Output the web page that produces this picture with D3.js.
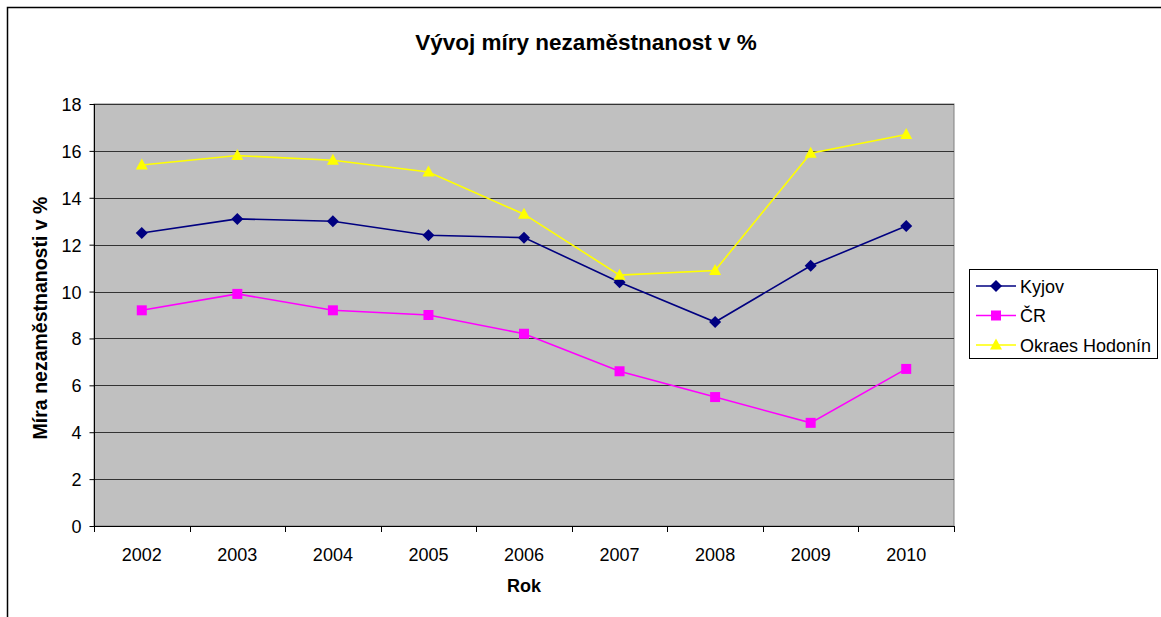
<!DOCTYPE html>
<html><head><meta charset="utf-8">
<script src="https://cdn.jsdelivr.net/npm/d3@7"></script>
<style>body{margin:0;background:#fff;}svg{display:block;font-family:Arial,"Liberation Sans",sans-serif;}</style>
</head><body>
<svg id="c" width="1161" height="617"></svg>
<script>
const years = ["2002","2003","2004","2005","2006","2007","2008","2009","2010"];
const kyjov = [12.5,13.1,13.0,12.4,12.3,10.4,8.7,11.1,12.8];
const cr = [9.2,9.9,9.2,9.0,8.2,6.6,5.5,4.4,6.7];
const hodonin = [15.4,15.8,15.6,15.1,13.3,10.7,10.9,15.9,16.7];
const yTicks = [0,2,4,6,8,10,12,14,16,18];
const seriesNames = ["Kyjov","ČR","Okraes Hodonín"];
const seriesColors = ["#000080","#ff00ff","#ffff00"];
const seriesShapes = ["diamond","square","triangle"];
const title = "Vývoj míry nezaměstnanost v %";
const xTitle = "Rok";
const yTitle = "Míra nezaměstnanosti v %";

const FONT = "Arial,'Liberation Sans',sans-serif";
const svg = d3.select("#c");
const L=94, R=954, T=104, B=526;
// outer border
svg.append("rect").attr("x",7.5).attr("y",7.5).attr("width",1170).attr("height",640)
  .attr("fill","#fff").attr("stroke","#000").attr("stroke-width",1.5);

const x = d3.scaleBand().domain(years).range([L,R]).padding(0);
const y = d3.scaleLinear().domain([0,18]).range([B,T]);

svg.append("rect").attr("x",L).attr("y",T).attr("width",R-L).attr("height",B-T)
  .attr("fill","#c0c0c0").attr("stroke","#808080").attr("stroke-width",1);

// gridlines
svg.append("g").selectAll("line").data(yTicks.filter(d=>d>0)).join("line")
  .attr("x1",L).attr("x2",R).attr("y1",d=>Math.round(y(d))+0.5).attr("y2",d=>Math.round(y(d))+0.5)
  .attr("stroke","#333").attr("stroke-width",1);

// y axis
const ya = svg.append("g").attr("transform",`translate(${L+0.5},0)`)
  .call(d3.axisLeft(y).tickValues(yTicks).tickSize(5).tickPadding(8));
ya.select(".domain").attr("stroke","#000").attr("d",`M0,${T}V${B}`);
ya.selectAll(".tick line").attr("stroke","#000");
ya.selectAll("text").attr("font-size",18).attr("fill","#000").attr("font-family",FONT).attr("dy","0.36em");

// x axis
const xa = svg.append("g").attr("transform",`translate(0,${B+0.5})`)
  .call(d3.axisBottom(x).tickSize(0));
xa.select(".domain").attr("stroke","#000").attr("d",`M${L},0H${R}`);
xa.selectAll("text").attr("font-size",18).attr("fill","#000").attr("font-family",FONT)
  .attr("y",34).attr("dy",null);
const bounds = years.map((d)=>x(d)).concat([R]);
svg.append("g").selectAll("line").data(bounds).join("line")
  .attr("x1",d=>Math.round(d)+0.5).attr("x2",d=>Math.round(d)+0.5).attr("y1",B).attr("y2",B+6)
  .attr("stroke","#000");

// titles
svg.append("text").attr("x",586).attr("y",50).attr("text-anchor","middle")
  .attr("font-size",22.5).attr("font-weight","bold").text(title);
svg.append("text").attr("x",(L+R)/2).attr("y",592).attr("text-anchor","middle")
  .attr("font-size",18).attr("font-weight","bold").text(xTitle);
svg.append("text").attr("transform",`translate(47,${(T+B)/2+3}) rotate(-90)`).attr("text-anchor","middle")
  .attr("font-size",19.5).attr("font-weight","bold").text(yTitle);

function marker(sel, shape, color){
  if(shape==="diamond") sel.append("path").attr("d","M0,-6L6,0L0,6L-6,0Z").attr("fill",color);
  else if(shape==="square") sel.append("rect").attr("x",-5).attr("y",-5).attr("width",10).attr("height",10).attr("fill",color);
  else sel.append("path").attr("d","M0,-6.5L6,4.5L-6,4.5Z").attr("fill",color);
}

const data = [kyjov, cr, hodonin];
const line = d3.line().x((d,i)=>x(years[i])+x.bandwidth()/2).y(d=>y(d));
data.forEach((vals,si)=>{
  svg.append("path").datum(vals).attr("d",line).attr("fill","none")
    .attr("stroke",seriesColors[si]).attr("stroke-width",1.6);
  vals.forEach((v,i)=>{
    const g = svg.append("g").attr("transform",`translate(${x(years[i])+x.bandwidth()/2},${y(v)})`);
    marker(g, seriesShapes[si], seriesColors[si]);
  });
});

// legend
const lg = svg.append("g");
lg.append("rect").attr("x",969.5).attr("y",269.5).attr("width",188).attr("height",89)
  .attr("fill","#fff").attr("stroke","#000").attr("stroke-width",1);
seriesNames.forEach((n,i)=>{
  const cy = 286 + i*29.5;
  lg.append("line").attr("x1",976).attr("x2",1016).attr("y1",cy).attr("y2",cy)
    .attr("stroke",seriesColors[i]).attr("stroke-width",1.6);
  const g = lg.append("g").attr("transform",`translate(996,${cy})`);
  marker(g, seriesShapes[i], seriesColors[i]);
  lg.append("text").attr("x",1020).attr("y",cy+6.5).attr("font-size",18).text(n);
});
</script>
</body></html>
